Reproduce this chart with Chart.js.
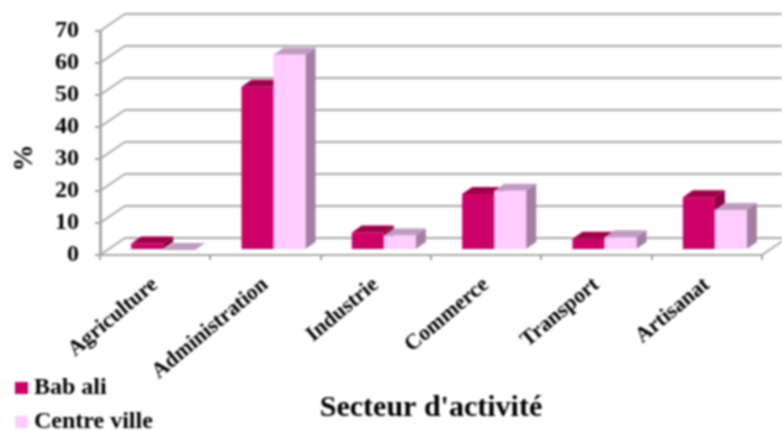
<!DOCTYPE html>
<html>
<head>
<meta charset="utf-8">
<script src="https://cdn.jsdelivr.net/npm/chart.js@4"></script>
<style>
  html, body { margin: 0; padding: 0; background: #fff; overflow: hidden; }
  canvas { display: block; filter: blur(0.8px); }
</style>
</head>
<body>
<canvas id="chart" width="782" height="430"></canvas>
<script>
const categories = ['Agriculture', 'Administration', 'Industrie', 'Commerce', 'Transport', 'Artisanat'];
const babAli = [2, 51, 5.5, 17.5, 3.5, 16.5];
const centreVille = [0, 61, 4.5, 18.5, 4, 12.5];
const yTicks = [0, 10, 20, 30, 40, 50, 60, 70];

const serif = '"Liberation Serif", "Times New Roman", serif';

// fake 3D: the bars sit a little behind the front axis, back wall further behind
const wallDx = 25, wallDy = -17;
const barDx = 8, barDy = -5;
const faceDx = 10, faceDy = -7;

const faceColors = {
  0: { top: '#9C0048', side: '#8A0040' },
  1: { top: '#C09BC0', side: '#A37FA3' }
};

function poly(ctx, pts, color) {
  ctx.fillStyle = color;
  ctx.beginPath();
  pts.forEach((p, i) => i ? ctx.lineTo(p[0], p[1]) : ctx.moveTo(p[0], p[1]));
  ctx.closePath();
  ctx.fill();
}

const depthPlugin = {
  id: 'depth',
  beforeDatasetsDraw(chart) {
    const { ctx, scales } = chart;
    const left = scales.x.left, right = scales.x.right;

    // walls
    ctx.save();
    ctx.strokeStyle = '#A8A8A8';
    ctx.lineWidth = 2;
    yTicks.forEach(v => {
      const y = scales.y.getPixelForValue(v);
      ctx.beginPath();
      ctx.moveTo(left, y);
      ctx.lineTo(left + wallDx, y + wallDy);
      ctx.lineTo(chart.width, y + wallDy);
      ctx.stroke();
    });
    const y0 = scales.y.getPixelForValue(0);
    ctx.beginPath();
    ctx.moveTo(right, y0);
    ctx.lineTo(right + wallDx, y0 + wallDy);
    ctx.stroke();
    ctx.restore();

    // bars, first series first so the second covers its side face
    ctx.save();
    ctx.translate(barDx, barDy);
    chart.data.datasets.forEach((ds, di) => {
      chart.getDatasetMeta(di).data.forEach(bar => {
        const l = bar.x - bar.width / 2, r = bar.x + bar.width / 2;
        const colors = faceColors[di];
        poly(ctx, [[l, bar.y], [l + faceDx, bar.y + faceDy], [r + faceDx, bar.y + faceDy], [r, bar.y]], colors.top);
        poly(ctx, [[r, bar.y], [r + faceDx, bar.y + faceDy], [r + faceDx, bar.base + faceDy], [r, bar.base]], colors.side);
        bar.draw(ctx);
      });
    });
    ctx.restore();
    return false;
  },
  afterDraw(chart) {
    const { ctx } = chart;

    // legend stacked in the bottom left corner
    const rows = [388, 422];
    ctx.save();
    ctx.font = 'bold 24px ' + serif;
    ctx.textBaseline = 'middle';
    chart.data.datasets.forEach((ds, i) => {
      ctx.fillStyle = ds.backgroundColor;
      ctx.fillRect(15, rows[i] - 6, 13, 12);
      ctx.fillStyle = '#000';
      ctx.fillText(ds.label, 34, rows[i]);
    });
    ctx.restore();

    // the % title sits lower than the axis middle
    ctx.save();
    ctx.translate(25, 158);
    ctx.rotate(-Math.PI / 2);
    ctx.font = 'bold 27px ' + serif;
    ctx.textAlign = 'center';
    ctx.textBaseline = 'middle';
    ctx.fillStyle = '#000';
    ctx.fillText('%', 0, 0);
    ctx.restore();
  }
};

new Chart(document.getElementById('chart'), {
  type: 'bar',
  data: {
    labels: categories,
    datasets: [
      { label: 'Bab ali', data: babAli, backgroundColor: '#CC0066', borderWidth: 0 },
      { label: 'Centre ville', data: centreVille, backgroundColor: '#FFCCFF', borderWidth: 0 }
    ]
  },
  options: {
    responsive: false,
    animation: false,
    categoryPercentage: 0.58,
    barPercentage: 1,
    layout: { padding: { top: 31, right: 20, left: 0, bottom: 0 } },
    plugins: {
      legend: { display: false },
      tooltip: { enabled: false }
    },
    scales: {
      x: {
        afterFit(scale) { scale.height = 175; },
        grid: { drawOnChartArea: false, color: '#A0A0A0', lineWidth: 2, tickLength: 5 },
        border: { color: '#A8A8A8', width: 2 },
        ticks: {
          color: '#000',
          font: { family: serif, weight: 'bold', size: 22 },
          maxRotation: 40,
          minRotation: 40,
          autoSkip: false,
          padding: 12
        },
        title: {
          display: true,
          text: "Secteur d'activité",
          color: '#000',
          font: { family: serif, weight: 'bold', size: 30 },
          padding: { top: 0, bottom: 4 }
        }
      },
      y: {
        min: 0,
        max: 70,
        afterFit(scale) { scale.width = 100; },
        afterBuildTicks(scale) { scale.ticks = yTicks.map(v => ({ value: v })); },
        grid: { drawOnChartArea: false, color: '#A0A0A0', lineWidth: 2, tickLength: 5 },
        border: { color: '#A8A8A8', width: 3 },
        ticks: {
          color: '#000',
          font: { family: serif, weight: 'bold', size: 24 },
          padding: 16
        }
      }
    }
  },
  plugins: [depthPlugin]
});
</script>
</body>
</html>
